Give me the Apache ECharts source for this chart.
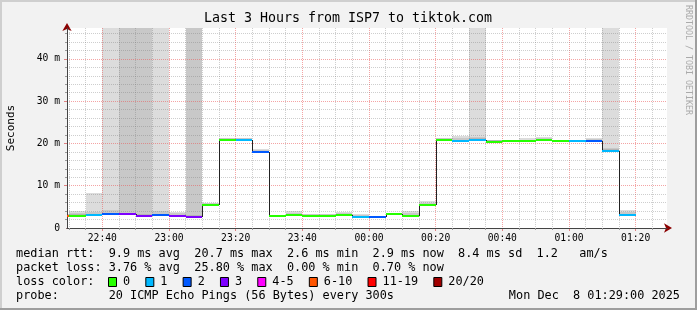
<!DOCTYPE html>
<html><head><meta charset="utf-8">
<script src="https://cdn.jsdelivr.net/npm/echarts@6/dist/echarts.min.js"></script>
<style>html,body{margin:0;padding:0;background:#f2f2f2}#c{width:697px;height:310px}</style>
</head><body><div id="c"></div>
<script>
// ---- data ----
const timeWindow = ['22:29:24', '01:29:24'];
const binMinutes = 5;
const binStarts = ['22:25','22:30','22:35','22:40','22:45','22:50','22:55','23:00','23:05','23:10',
  '23:15','23:20','23:25','23:30','23:35','23:40','23:45','23:50','23:55','00:00',
  '00:05','00:10','00:15','00:20','00:25','00:30','00:35','00:40','00:45','00:50',
  '00:55','01:00','01:05','01:10','01:15'];
const median = [2.9,2.9,3.0,3.2,3.2,2.9,3.0,2.75,2.5,5.4,
  20.8,20.8,17.9,2.8,3.0,2.9,2.8,3.0,2.5,2.7,
  3.3,2.8,5.4,20.8,20.5,20.8,20.4,20.5,20.5,20.8,
  20.5,20.5,20.5,18.2,3.0];
const lostPings = [6,0,1,2,3,3,2,3,3,0,
  0,1,2,0,0,0,0,0,1,2,
  0,0,0,0,1,1,0,0,0,0,
  0,1,2,1,1];
const smokeLow = [2.7,2.7,2.8,3.0,3.0,2.7,2.8,2.6,2.3,5.2,
  20.6,20.6,17.7,2.6,2.8,2.7,2.6,2.8,2.3,2.5,
  3.1,2.6,5.2,20.6,20.3,20.6,20.2,20.3,20.3,20.6,
  20.3,20.3,20.3,18.0,2.8];
const smokeNear = [3.1,3.2,3.3,3.6,3.6,3.3,3.4,3.1,3.0,5.7,
  21.1,21.1,18.3,3.0,3.3,3.1,3.0,3.3,2.8,2.9,
  3.5,3.1,5.7,21.1,20.9,21.2,20.8,20.7,20.8,21.1,
  20.8,20.6,20.9,18.6,3.4];
const smokeMid = [3.3,3.6,3.8,4.3,60,60,4.0,3.5,60,5.9,
  21.3,21.3,18.5,3.1,3.6,3.3,3.3,3.5,3.1,2.9,
  3.5,3.5,6.0,21.2,21.2,21.6,20.9,20.7,20.9,21.2,
  20.8,20.6,21.0,19.0,3.9];
const smokeHigh = [3.4,4.1,8.2,60,60,60,60,3.7,60,6.0,
  21.4,21.4,18.7,3.1,4.0,3.4,3.4,3.9,3.3,2.9,
  3.5,4.1,6.3,21.3,21.7,60,20.9,20.7,21.2,21.6,
  20.9,20.6,21.4,60,4.3];
const xTickLabels = ['22:40','23:00','23:20','23:40','00:00','00:20','00:40','01:00','01:20'];
const yTickValues = [0,10,20,30,40];
const yMax = 47.3;
const lossLegend = ['0','1','2','3','4-5','6-10','11-19','20/20'];
const lossColors = ['#26ff00','#00b8ff','#0059ff','#7e00ff','#ff00ff','#ff5500','#ff0000','#a10000'];
const title = 'Last 3 Hours from ISP7 to tiktok.com';
const line1 = 'median rtt:  9.9 ms avg  20.7 ms max  2.6 ms min  2.9 ms now  8.4 ms sd  1.2   am/s';
const line2 = 'packet loss: 3.76 % avg  25.80 % max  0.00 % min  0.70 % now';
const line3 = 'loss color:';
const line4 = 'probe:       20 ICMP Echo Pings (56 Bytes) every 300s';
const stamp = 'Mon Dec  8 01:29:00 2025';

// ---- helpers ----
function toMin(s){ const p=s.split(':').map(Number); let h=p[0]; if(h<12) h+=24; return (h-22)*60+p[1]+(p[2]||0)/60; }
function fmt(v){ let m=Math.round(v)+22*60; m%=1440; const h=Math.floor(m/60), mm=m%60; return String(h).padStart(2,'0')+':'+String(mm).padStart(2,'0'); }
function lossIdx(n){ if(n<=3) return n; if(n<=5) return 4; if(n<=10) return 5; if(n<=19) return 6; return 7; }
const xMin = toMin(timeWindow[0]), xMax = toMin(timeWindow[1]);
const majorX = xTickLabels.map(toMin);
const minorX = []; for(let v=Math.ceil(xMin/5)*5; v<=xMax; v+=5){ if(v%20!==0) minorX.push(v); }
const majorY = yTickValues.filter(v=>v>0);
const minorY = []; for(let v=2; v<yMax; v+=2){ if(v%10!==0) minorY.push(v); }

const smokeData = binStarts.map((b,i)=>{ const s=toMin(b); return [s, s+binMinutes, smokeLow[i], smokeNear[i], smokeMid[i], smokeHigh[i]]; });
const medData = binStarts.map((b,i)=>{ const s=toMin(b); return [s, s+binMinutes, median[i], i>0?median[i-1]:median[i], lossIdx(lostPings[i])]; });

const mono = 'DejaVu Sans Mono';
const chart = echarts.init(document.getElementById('c'), null, {renderer:'canvas'});

const gridLeft=67, gridTop=28, gridW=600, gridH=200;
const minorLine = {color:'rgba(120,120,120,0.36)', width:1, type:[1,1]};
const majorLine = {color:'rgba(235,90,90,0.55)', width:1, type:[1,1]};

// legend graphics
const graphics = [
  {type:'rect', shape:{x:0,y:0,width:697,height:2}, style:{fill:'#cfcfcf'}, silent:true},
  {type:'rect', shape:{x:0,y:0,width:2,height:310}, style:{fill:'#cfcfcf'}, silent:true},
  {type:'rect', shape:{x:695,y:0,width:2,height:310}, style:{fill:'#9e9e9e'}, silent:true},
  {type:'rect', shape:{x:0,y:308,width:697,height:2}, style:{fill:'#9e9e9e'}, silent:true},
  {type:'text', x:348, y:19, style:{text:title, font:'13.3px "'+mono+'"', fill:'#000', align:'center', verticalAlign:'middle'}},
  {type:'text', x:11, y:128, rotation:Math.PI/2, style:{text:'Seconds', font:'11px "'+mono+'"', fill:'#000', align:'center', verticalAlign:'middle'}},
  {type:'text', x:688, y:60, rotation:-Math.PI/2, style:{text:'RRDTOOL / TOBI OETIKER', font:'8.3px "'+mono+'"', fill:'#aaa', align:'center', verticalAlign:'middle'}},
];
const legFont = '11.85px "'+mono+'"';
[[line1,254],[line2,268],[line3,282],[line4,296]].forEach(([t,y])=>{
  graphics.push({type:'text', x:16, y:y, style:{text:t, font:legFont, fill:'#000', align:'left', verticalAlign:'middle'}});
});
graphics.push({type:'text', x:680, y:296, style:{text:stamp, font:legFont, fill:'#000', align:'right', verticalAlign:'middle'}});
let sx = 108.5; const cw = 7.12;
lossLegend.forEach((lab,i)=>{
  graphics.push({type:'rect', shape:{x:sx, y:277.5, width:8, height:9}, style:{fill:lossColors[i], stroke:'#000', lineWidth:1}});
  graphics.push({type:'text', x:sx+14.5, y:282, style:{text:lab, font:legFont, fill:'#000', align:'left', verticalAlign:'middle'}});
  sx = sx + 30.2 + cw*lab.length;
});

const option = {
  animation:false,
  backgroundColor:'#f2f2f2',
  grid:{left:gridLeft, top:gridTop, width:gridW, height:gridH, show:true, backgroundColor:'#fff', borderWidth:0},
  xAxis:[
    {type:'value', min:xMin, max:xMax, position:'bottom', z:3,
     axisLine:{show:true, lineStyle:{color:'#444', width:1}},
     axisTick:{show:true, length:2, customValues:minorX, lineStyle:{color:'#999'}},
     axisLabel:{show:false},
     splitLine:{show:true, lineStyle:minorLine}},
    {type:'value', min:xMin, max:xMax, position:'bottom', z:2,
     axisLine:{show:true, symbol:['none','arrow'], symbolSize:[7,8], symbolOffset:[0,5], lineStyle:{color:'#8b0000', width:1}},
     axisTick:{show:true, length:3, customValues:majorX, lineStyle:{color:'#e08080'}},
     axisLabel:{show:true, customValues:majorX, formatter:fmt, margin:5, fontFamily:mono, fontSize:9.7, color:'#000'},
     splitLine:{show:true, lineStyle:majorLine}}
  ],
  yAxis:[
    {type:'value', min:0, max:yMax, z:3,
     axisLine:{show:true, lineStyle:{color:'#444', width:1}},
     axisTick:{show:true, length:2, customValues:minorY, lineStyle:{color:'#999'}},
     axisLabel:{show:false},
     splitLine:{show:true, lineStyle:minorLine}},
    {type:'value', min:0, max:yMax, z:2, interval:10, position:'left',
     axisLine:{show:true, symbol:['none','arrow'], symbolSize:[7,8], symbolOffset:[0,5], lineStyle:{color:'#8b0000', width:1}},
     axisTick:{show:true, length:3, customValues:majorY, lineStyle:{color:'#e08080'}},
     axisLabel:{show:true, customValues:yTickValues, formatter:v=>v===0?'0':v+' m', margin:7, fontFamily:mono, fontSize:9.7, color:'#000'},
     splitLine:{show:true, lineStyle:majorLine}}
  ],
  series:[
    {type:'custom', z:1, xAxisIndex:0, yAxisIndex:0, data:smokeData, encode:{x:[0,1], y:[2,5]},
     renderItem:function(params, api){
       const cs=params.coordSys; const area={x:cs.x,y:cs.y,width:cs.width,height:cs.height};
       const x0=api.value(0), x1=api.value(1), lo=api.value(2);
       const layers=[[api.value(5),'#dcdcdc'],[api.value(4),'#c8c8c8'],[api.value(3),'#b4b4b4']];
       const children=[];
       layers.forEach(([hi,col])=>{
         const p0=api.coord([x0,hi]), p1=api.coord([x1,lo]);
         const r={x:Math.round(p0[0]), y:Math.round(p0[1]), width:Math.round(p1[0])-Math.round(p0[0]), height:Math.round(p1[1])-Math.round(p0[1])};
         const c=echarts.graphic.clipRectByRect(r, area);
         if(c) children.push({type:'rect', shape:c, style:{fill:col}});
       });
       return {type:'group', children};
     }},
    {type:'custom', z:4, xAxisIndex:0, yAxisIndex:0, data:medData, encode:{x:[0,1], y:[2]},
     renderItem:function(params, api){
       const cs=params.coordSys; const area={x:cs.x,y:cs.y,width:cs.width,height:cs.height};
       const x0=api.value(0), x1=api.value(1), m=api.value(2), pm=api.value(3), li=api.value(4);
       const a=api.coord([x0,m]), b=api.coord([x1,m]), p=api.coord([x0,pm]);
       const children=[];
       const vx=Math.round(a[0])+0.5;
       if(a[0]>=cs.x && Math.abs(p[1]-a[1])>1){
         children.push({type:'line', shape:{x1:vx, y1:Math.round(p[1]), x2:vx, y2:Math.round(a[1])}, style:{stroke:'#222', lineWidth:1}});
       }
       const pts=echarts.graphic.clipPointsByRect([[Math.round(a[0]),Math.round(a[1])],[Math.round(b[0]),Math.round(b[1])]], area);
       children.push({type:'line', shape:{x1:pts[0][0], y1:pts[0][1], x2:pts[1][0], y2:pts[1][1]}, style:{stroke:lossColors[li], lineWidth:2}});
       return {type:'group', children};
     }}
  ],
  graphic:graphics
};
chart.setOption(option);
</script></body></html>
